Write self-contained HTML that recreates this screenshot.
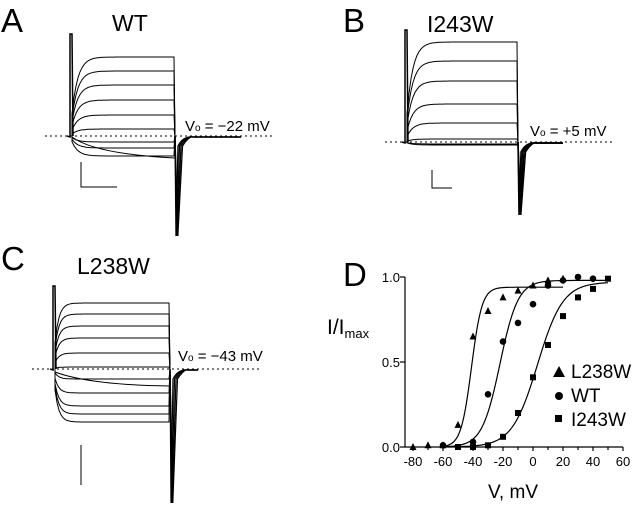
<!DOCTYPE html>
<html><head><meta charset="utf-8"><style>
body{margin:0;background:#fff}
svg{display:block;font-family:"Liberation Sans",sans-serif}
</style></head><body>
<svg id="s" width="640" height="507" viewBox="0 0 640 507" xmlns="http://www.w3.org/2000/svg">
<g font-size="33" fill="#000">
<text x="1" y="32">A</text><text x="343" y="32">B</text><text x="1" y="270">C</text><text x="343" y="286">D</text>
</g>
<g font-size="23" fill="#000">
<text x="112" y="31">WT</text><text x="427" y="32">I243W</text><text x="77" y="274">L238W</text>
</g>
<g font-size="15" fill="#000">
<text x="185" y="131">V<tspan font-size="10">o</tspan> = −22 mV</text>
<text x="530" y="136">V<tspan font-size="10">o</tspan> = +5 mV</text>
<text x="178" y="361">V<tspan font-size="10">o</tspan> = −43 mV</text>
</g>
<g stroke="#000" stroke-dasharray="2,3" stroke-width="1">
<line x1="45" y1="136" x2="272" y2="136"/>
<line x1="385" y1="142" x2="613" y2="142"/>
<line x1="32" y1="369" x2="260" y2="369"/>
</g>
<g stroke="#000" fill="none" stroke-width="1">
<polyline points="81,162 81,187 117,187"/>
<polyline points="432,170 432,188 452,188"/>
<line x1="81" y1="445" x2="81" y2="485"/>
</g>
<g id="tr" stroke="#000" fill="none" stroke-width="1"></g>
<g id="D" stroke="#000" fill="none" stroke-width="1.2"></g>
<g font-size="13" fill="#000" id="Dt">
<text x="400" y="282" text-anchor="end">1.0</text>
<text x="400" y="367" text-anchor="end">0.5</text>
<text x="400" y="452" text-anchor="end">0.0</text>
</g>
<text x="327" y="334" font-size="21">I/I<tspan font-size="13" dy="4">max</tspan></text>
<text x="513" y="498" font-size="19" text-anchor="middle">V, mV</text>
<g font-size="19">
<path d="M553,377 L559,366 L565,377Z" fill="#000"/><text x="571" y="378">L238W</text>
<circle cx="559" cy="396" r="4" fill="#000"/><text x="571" y="402">WT</text>
<rect x="555" y="415" width="7" height="7" fill="#000"/><text x="571" y="426">I243W</text>
</g>
<script>
var ns="http://www.w3.org/2000/svg";
function P(g,d,w){var p=document.createElementNS(ns,"path");p.setAttribute("d",d);if(w)p.setAttribute("stroke-width",w);document.getElementById(g).appendChild(p);}
function panel(x0,x1,yb,levels,tau,spikeTop,tailY,tailW,tailEnd){
 P("tr","M"+(x0-3)+","+yb+"L"+x0+","+(yb+1)+"L"+x0+","+spikeTop+"L"+(x0+2)+","+spikeTop+"L"+(x0+3)+","+yb,1.5);
 levels.forEach(function(L){var d="M"+(x0+2)+","+yb;for(var x=x0+2;x<=x1;x+=2){var t=(x-x0)/tau;d+="L"+x+","+(yb+(L-yb)*(1-Math.exp(-t))).toFixed(1);}d+="L"+x1+","+yb;P("tr",d);});
 for(var k=0;k<4;k++){var d="M"+x1+","+yb+"L"+(x1+1+k*0.6)+","+tailY+"L"+(x1+3+k*1.5)+","+(yb+10)+"Q"+(x1+8+k*2)+","+yb+" "+(x1+18)+","+(yb+1)+"L"+tailEnd+","+(yb+1);P("tr",d,tailW);}
}
panel(70,175,136,[57,71,85,100,115,129,142,148,156],6,34,236,1.3,241);
P("tr","M72,137 Q95,154 175,158",1);
panel(405,518,142,[42,61,81,104,123,139,144,145],6,30,215,1.5,563);
panel(53,170,369,[303,314,326,338,353,367,379,393,406,414,422],4,286,503,1.2,198);
P("tr","M55,372 Q90,385 170,386",1);
function X(v){return 413+(v+80)*1.5;} function Y(f){return 447-170*f;}
P("D","M405,277L405,447L623,447");
[1,0.5,0].forEach(function(f){P("D","M400,"+Y(f)+"L405,"+Y(f));});
var dt=document.getElementById("Dt");
for(var vv=-80;vv<=60;vv+=20){P("D","M"+X(vv)+",447L"+X(vv)+",451");var tx=document.createElementNS(ns,"text");tx.setAttribute("x",X(vv));tx.setAttribute("y",466);tx.setAttribute("text-anchor","middle");tx.textContent=String(vv);dt.appendChild(tx);}
for(var vv=-70;vv<=50;vv+=20){P("D","M"+X(vv)+",447L"+X(vv)+",450");}
function curve(a,b,h,k,m){var d="";for(var v=a;v<=b;v+=1){d+=(v==a?"M":"L")+X(v).toFixed(1)+","+Y(m/(1+Math.exp(-(v-h)/k))).toFixed(1);}P("D",d);}
curve(-60,20,-41,3.5,0.94);curve(-60,50,-22,6,0.98);curve(-60,50,3,8.5,0.97);
var g=document.getElementById("D");
function pt(type,v,f){var x=X(v),y=Y(f),e;
 if(type==0){e=document.createElementNS(ns,"path");e.setAttribute("d","M"+(x-3.5)+","+(y+3)+"L"+x+","+(y-4)+"L"+(x+3.5)+","+(y+3)+"Z");}
 else if(type==1){e=document.createElementNS(ns,"circle");e.setAttribute("cx",x);e.setAttribute("cy",y);e.setAttribute("r",3.3);}
 else{e=document.createElementNS(ns,"rect");e.setAttribute("x",x-3);e.setAttribute("y",y-3);e.setAttribute("width",6);e.setAttribute("height",6);}
 e.setAttribute("fill","#000");e.setAttribute("stroke","none");g.appendChild(e);}
[[-80,0],[-70,.01],[-60,.01],[-50,.13],[-40,.65],[-30,.8],[-20,.88],[-10,.92],[0,.95],[10,.98],[20,.99]].forEach(function(p){pt(0,p[0],p[1]);});
[[-60,.01],[-40,.03],[-30,.31],[-20,.62],[-10,.73],[0,.84],[10,.95],[20,.98],[30,1],[40,.99]].forEach(function(p){pt(1,p[0],p[1]);});
[[-50,0],[-40,0],[-30,.01],[-20,.06],[-10,.2],[0,.41],[10,.6],[20,.77],[30,.88],[40,.93],[50,.99]].forEach(function(p){pt(2,p[0],p[1]);});
</script>
</svg>
</body></html>
